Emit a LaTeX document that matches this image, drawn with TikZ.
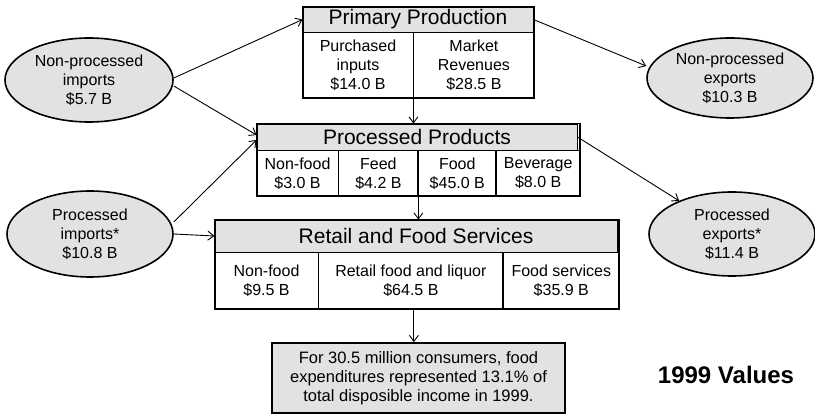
\documentclass[tikz,border=0pt]{standalone}
\usepackage{fontspec}
\setmainfont{Liberation Sans}
\usepackage{tikz}
\usetikzlibrary{calc, arrows.meta, shapes.geometric}
\definecolor{mygray}{RGB}{226, 226, 226}
\tikzset{>={Straight Barb[length=6pt, width=9pt]}}
\tikzset{
  hdr/.style = {draw, line width = 0.9pt, fill = mygray, inner sep = 0, font = \fontsize{21}{24}\selectfont},
  cell/.style = {draw, line width = 0.9pt, fill = white, inner sep = 0, align = center, anchor = north west, font = \fontsize{16}{19}\selectfont},
  frame/.style = {line width = 1.8pt},
  oval/.style = {ellipse, draw, line width = 1.6pt, fill = mygray, inner sep = 0, align = center, font = \fontsize{16}{19}\selectfont},
  flow/.style = {->, line width = 0.9pt}
}

\begin{document}
\begin{tikzpicture}[x = 1pt, y = -1pt]
\useasboundingbox (0,0) rectangle (815,414);
% primary production
\node[hdr, minimum width = 230, minimum height = 25] (primh) at (418, 19.5) {Primary Production};
\node[cell, minimum width = 110, minimum height = 65] (prim1) at (primh.south west) {Purchased\\inputs\\\$14.0 B};
\node[cell, minimum width = 120, minimum height = 65] (prim2) at (prim1.north east) {Market\\Revenues\\\$28.5 B};
\draw[frame] (primh.north west) rectangle (prim2.south east);
% processed products
\node[hdr, minimum width = 320, minimum height = 26] (pph) at (417, 137) {Processed Products};
\node[cell, minimum width = 81, minimum height = 45] (pp1) at (pph.south west) {Non-food\\\$3.0 B};
\node[cell, minimum width = 79, minimum height = 45] (pp2) at (pp1.north east) {Feed\\\$4.2 B};
\node[cell, minimum width = 77, minimum height = 45] (pp3) at (pp2.north east) {Food\\\$45.0 B};
\node[cell, minimum width = 83, minimum height = 45] (pp4) at (pp3.north east) {Beverage\\\$8.0 B};
\draw[frame] (pph.north west) rectangle (pp4.south east);
% retail and food services
\node[hdr, minimum width = 402, minimum height = 32] (rth) at (416, 236) {Retail and Food Services};
\node[cell, minimum width = 103, minimum height = 56] (rt1) at (rth.south west) {Non-food\\\$9.5 B};
\node[cell, minimum width = 184, minimum height = 56] (rt2) at (rt1.north east) {Retail food and liquor\\\$64.5 B};
\node[cell, minimum width = 115, minimum height = 56] (rt3) at (rt2.north east) {Food services\\\$35.9 B};
\draw[frame] (rth.north west) rectangle (rt3.south east);
% consumers
\node[draw, frame, fill = mygray, minimum width = 293, minimum height = 70, inner sep = 0, align = center,
  font = \fontsize{16.5}{19}\selectfont] (note) at (418.5, 378)
  {For 30.5 million consumers, food\\expenditures represented 13.1\% of\\total disposible income in 1999.};
\node[font = \fontsize{24}{28}\bfseries] (year) at (726, 375) {1999 Values};
% trade
\node[oval, minimum width = 168, minimum height = 84] (npi) at (89, 80) {Non-processed\\imports\\\$5.7 B};
\node[oval, minimum width = 166, minimum height = 86] (pi) at (90, 234) {Processed\\imports*\\\$10.8 B};
\node[oval, minimum width = 166, minimum height = 80] (npe) at (730, 78) {Non-processed\\exports\\\$10.3 B};
\node[oval, minimum width = 166, minimum height = 84] (pe) at (732, 234) {Processed\\exports*\\\$11.4 B};
% flows
\draw[flow] ([yshift = 2pt]npi.east) -- (primh.west);
\draw[flow] ([yshift = -6pt]npi.east) -- ([yshift = 2pt]pph.west);
\draw[flow] ([yshift = 12pt]pi.east) -- ([yshift = -3pt]pph.west);
\draw[flow] (pi.east) -- (rth.west);
\draw[flow] (primh.east) -- ([yshift = 12pt]npe.west);
\draw[flow] (pph.east) -- (pe);
\draw[flow] (prim1.south east) -- (prim1.south east |- pph.north);
\draw[flow] (pp2.south east) -- (pp2.south east |- rth.north);
\draw[flow] ([xshift = 3pt]rt2.south) -- ([xshift = 3pt]rt2.south |- note.north);
\end{tikzpicture}
\end{document}
